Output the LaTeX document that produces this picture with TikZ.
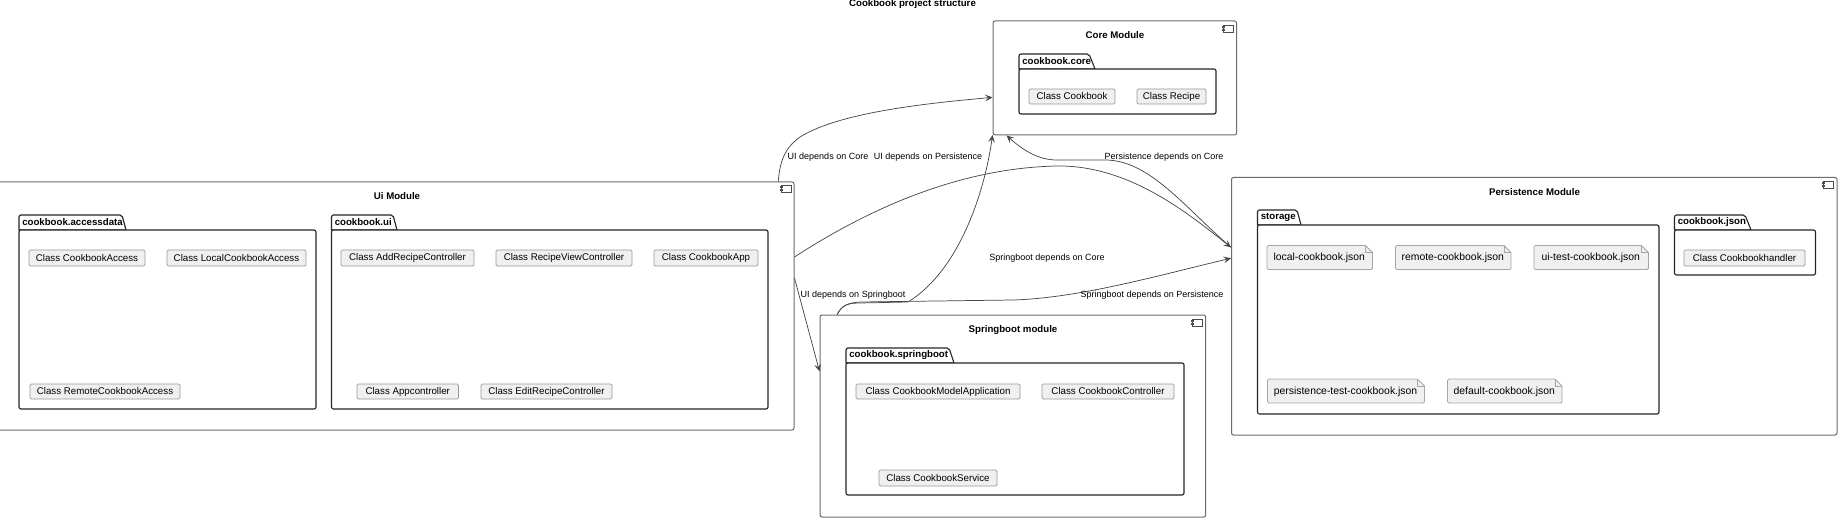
\documentclass[tikz,border=0pt]{standalone}
\usepackage{fontspec}
\setmainfont{Liberation Sans}
\usetikzlibrary{arrows.meta}
\newcommand{\fs}{\fontsize{7.3}{9}\selectfont}
\newcommand{\fe}{\fontsize{6.75}{9}\selectfont}
\newcommand{\fn}{\fontsize{7.8}{9}\selectfont}
\newcommand{\fb}{\fontsize{7.25}{9}\selectfont\bfseries}
\tikzset{
  x=0.75pt, y=-0.75pt,
  modulebox/.style={draw=black!58, line width=0.75pt, fill=white, rounded corners=1.5pt, inner sep=0pt},
  pkgbox/.style={draw=black!85, line width=0.85pt, fill=white, rounded corners=1.5pt, inner sep=0pt},
  pkgtab/.style={draw=black!85, line width=0.85pt, fill=white},
  classbox/.style={draw=black!40, line width=0.6pt, fill=black!6, rounded corners=1pt, inner sep=0pt, font=\fs},
  notebox/.style={draw=black!35, line width=0.6pt, fill=black!6, rounded corners=1pt},
  notefold/.style={draw=black!35, line width=0.5pt},
  plain/.style={inner sep=0pt, font=\fe},
  notetext/.style={inner sep=0pt, font=\fn},
  heading/.style={inner sep=0pt, font=\fb},
  pkglabel/.style={inner sep=0pt, anchor=west, font=\fb},
  icon/.style={draw=black!70, line width=0.5pt, fill=white},
  dep/.style={draw=black!72, line width=0.55pt, -{Stealth[length=5.5pt,width=5pt,inset=2.2pt]}}
}
% name, style, x0, y0, x1, y1, text
\newcommand{\boxnode}[7]{%
  \node[#2, minimum width={(#5-#3)*0.75pt}, minimum height={(#6-#4)*0.75pt}] (#1) at ({(#3+#5)/2},{(#4+#6)/2}) {#7};}
% name, x0, tabtop, bodytop, x1, y1, tabright-top, tabright-bottom, label
\newcommand{\pkg}[9]{%
  \draw[pkgtab] (#2,#4) -- (#2,{#3+2}) [rounded corners=1.5pt] -- (#2,#3) -- (#7,#3) [sharp corners] -- (#8,#4) -- cycle;
  \boxnode{#1}{pkgbox}{#2}{#4}{#5}{#6}{}
  \node[pkglabel] (#1label) at ({#2+3},{(#3+#4)/2}) {#9};}
% x0, y0 of component icon
\newcommand{\compicon}[2]{%
  \draw[icon] ({#1+1.5},#2) rectangle ({#1+11.5},{#2+7});
  \fill[black!70] (#1,{#2+1.3}) rectangle ({#1+2.6},{#2+2.7});
  \fill[black!70] (#1,{#2+4.3}) rectangle ({#1+2.6},{#2+5.7});}
% name, x0, y0, x1, y1, text
\newcommand{\note}[6]{%
  \draw[notebox] (#2,#3) -- ({#4-7},#3) [sharp corners] -- (#4,{#3+7}) [rounded corners=1pt] -- (#4,#5) -- (#2,#5) -- cycle;
  \draw[notefold] ({#4-7},#3) -- ({#4-7},{#3+7}) -- (#4,{#3+7});
  \node[notetext] (#1) at ({(#2+#4)/2-0.5},{(#3+#5)/2+0.5}) {#6};}
\begin{document}
\begin{tikzpicture}
\useasboundingbox (0,0) rectangle (1840,520);
\node[heading] (title) at (912.5,4.5) {Cookbook project structure};

% Core
\boxnode{core}{modulebox}{993}{21}{1236.5}{135}{}
\node[heading] (coret) at (1115,35) {Core Module};
\compicon{1222}{25}
\pkg{pcore}{1019}{54}{69}{1216}{114}{1089}{1095}{cookbook.core}
\boxnode{ccookbook}{classbox}{1029}{89}{1115}{104}{Class Cookbook}
\boxnode{crecipe}{classbox}{1137}{89}{1206}{104}{Class Recipe}

% Ui
\boxnode{ui}{modulebox}{-4}{182}{794}{430}{}
\node[heading] (uit) at (397,196) {Ui Module};
\compicon{780}{185}
\pkg{paccess}{19}{215}{230}{316}{409}{122}{126}{cookbook.accessdata}
\boxnode{c1}{classbox}{29}{250}{145}{266}{Class CookbookAccess}
\boxnode{c2}{classbox}{167}{250}{306}{266}{Class LocalCookbookAccess}
\boxnode{c3}{classbox}{30}{384}{180}{399}{Class RemoteCookbookAccess}
\pkg{pui}{331.5}{215}{230}{768}{409}{393}{397}{cookbook.ui}
\boxnode{c4}{classbox}{341}{250}{474}{266}{Class AddRecipeController}
\boxnode{c5}{classbox}{496}{250}{632}{266}{Class RecipeViewController}
\boxnode{c6}{classbox}{654}{250}{758}{266}{Class CookbookApp}
\boxnode{c7}{classbox}{357}{384}{458.5}{399}{Class Appcontroller}
\boxnode{c8}{classbox}{481}{384}{612}{399}{Class EditRecipeController}

% Persistence
\boxnode{pers}{modulebox}{1231.5}{177.5}{1837}{435}{}
\node[heading] (perst) at (1534.5,192) {Persistence Module};
\compicon{1822}{181}
\pkg{pstorage}{1257.5}{210}{225}{1659}{414}{1297}{1301}{storage}
\note{n1}{1267}{245.5}{1372.5}{269.5}{local-cookbook.json}
\note{n2}{1395.5}{245.5}{1511}{269.5}{remote-cookbook.json}
\note{n3}{1534}{245.5}{1648.5}{269.5}{ui-test-cookbook.json}
\note{n4}{1267.5}{379}{1424.5}{403}{persistence-test-cookbook.json}
\note{n5}{1447.5}{379}{1562}{403}{default-cookbook.json}
\pkg{pjson}{1674.5}{215}{230}{1815.5}{275}{1745}{1751}{cookbook.json}
\boxnode{c9}{classbox}{1684}{250}{1805}{266}{Class Cookbookhandler}

% Springboot
\boxnode{spring}{modulebox}{820}{315}{1205.7}{517}{}
\node[heading] (springt) at (1013,330.5) {Springboot module};
\compicon{1191}{319}
\pkg{pspring}{846}{348}{363}{1184}{495}{949}{954}{cookbook.springboot}
\boxnode{c10}{classbox}{856}{384}{1020}{399}{Class CookbookModelApplication}
\boxnode{c11}{classbox}{1042}{384}{1174}{399}{Class CookbookController}
\boxnode{c12}{classbox}{879}{470}{997}{486}{Class CookbookService}

% Connectors
\draw[dep] (ui.18.12) .. controls (780,160) and (785,148) .. (800,137)
  .. controls (840,112) and (930,103) .. (core.189.31);
\draw[dep] (ui.7.46) .. controls (870,208) and (960,168) .. (1057,166)
  .. controls (1130,165) and (1190,215) .. (pers.169.66);
\draw[dep] (pers.169.66) .. controls (1185,208) and (1150,160) .. (1105,160)
  -- (1057,160) .. controls (1040,160) and (1025,152) .. (core.208.5);
\draw[dep] (ui.4.18) -- (spring.167.16);
\draw[dep] (spring.150.15) .. controls (842,305) and (848,303) .. (860,303)
  -- (908,302) .. controls (960,270) and (985,190) .. (core.205.2);
\draw[dep] (spring.150.15) .. controls (842,305) and (848,303) .. (860,302)
  -- (1013,300) .. controls (1080,298) and (1160,275) .. (pers.171.31);

% Labels
\node[plain] (l1) at (828,157) {UI depends on Core};
\node[plain] (l2) at (928,157) {UI depends on Persistence};
\node[plain] (l3) at (1164,157) {Persistence depends on Core};
\node[plain] (l4) at (853,295) {UI depends on Springboot};
\node[plain] (l5) at (1047,258) {Springboot depends on Core};
\node[plain] (l6) at (1152,295) {Springboot depends on Persistence};
\end{tikzpicture}
\end{document}
